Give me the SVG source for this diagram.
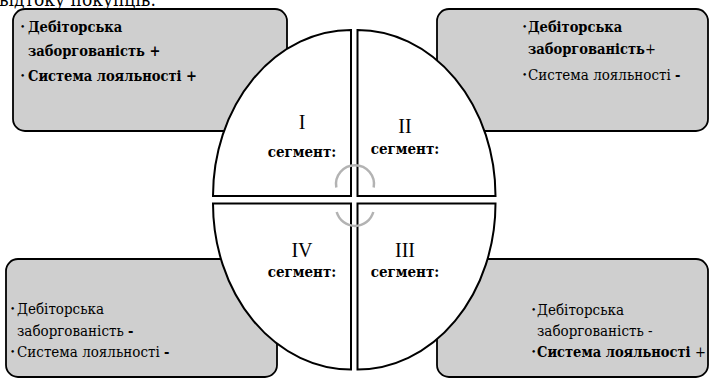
<svg xmlns="http://www.w3.org/2000/svg" width="711" height="378" viewBox="0 0 711 378">
<style>
  .box { fill: #cfcfcf; stroke: #000; stroke-width: 1.8; }
  .quad { fill: #fff; stroke: #000; stroke-width: 2; stroke-linejoin: miter; }
  .t { font-family: "DejaVu Serif Condensed", "DejaVu Serif", "Liberation Serif", serif; font-size: 15px; fill: #000; }
  .b { font-weight: bold; font-size: 14.5px; }
  .bul { font-family: "DejaVu Serif", serif; font-size: 9px; fill: #000; }
  .num { font-family: "Liberation Serif", "DejaVu Serif", serif; font-size: 20px; fill: #000; text-anchor: middle; }
  .seg { font-family: "DejaVu Serif Condensed", "DejaVu Serif", serif; font-size: 15px; font-weight: bold; fill: #000; text-anchor: middle; }
  .arc { fill: none; stroke: #b3b3b3; stroke-width: 2.5; }
</style>
<rect width="711" height="378" fill="#fff"/>
<text class="t" x="-1" y="6" style="font-size:19px">відтоку покупців.</text>

<g id="box-tl">
  <rect class="box" x="13" y="9" width="274" height="122" rx="12"/>
  <text class="bul" x="20" y="30">•</text>
  <text class="t b" x="28" y="32">Дебіторська</text>
  <text class="t b" x="28" y="56">заборгованість +</text>
  <text class="bul" x="20" y="79">•</text>
  <text class="t b" x="28" y="81">Система лояльності +</text>
</g>
<g id="box-tr">
  <rect class="box" x="437" y="9" width="271" height="122" rx="12"/>
  <text class="bul" x="522" y="30">•</text>
  <text class="t b" x="528" y="32">Дебіторська</text>
  <text class="t b" x="528" y="54">заборгованість<tspan font-weight="normal">+</tspan></text>
  <text class="bul" x="522" y="78">•</text>
  <text class="t" x="528" y="80">Система лояльності <tspan class="b">-</tspan></text>
</g>
<g id="box-bl">
  <rect class="box" x="6" y="259" width="271" height="118" rx="12"/>
  <text class="bul" x="10" y="312">•</text>
  <text class="t" x="17" y="314">Дебіторська</text>
  <text class="t" x="17" y="336">заборгованість  <tspan class="b">-</tspan></text>
  <text class="bul" x="10" y="355">•</text>
  <text class="t" x="17" y="357">Система лояльності  <tspan class="b">-</tspan></text>
</g>
<g id="box-br">
  <rect class="box" x="437" y="259" width="271" height="118" rx="12"/>
  <text class="bul" x="531" y="313">•</text>
  <text class="t" x="537" y="315">Дебіторська</text>
  <text class="t" x="537" y="336">заборгованість -</text>
  <text class="bul" x="531" y="355">•</text>
  <text class="t b" x="537" y="357">Система лояльності <tspan font-weight="normal">+</tspan></text>
</g>

<g id="seg-1">
  <path class="quad" d="M351 196 L213 196 A138 166 0 0 1 351 30 Z"/>
  <text class="num" x="302" y="129">I</text>
  <text class="seg" x="302" y="157">сегмент:</text>
</g>
<g id="seg-2">
  <path class="quad" d="M357.5 196 L357.5 30 A138 166 0 0 1 495.5 196 Z"/>
  <text class="num" x="405" y="133">II</text>
  <text class="seg" x="405" y="154">сегмент:</text>
</g>
<g id="seg-3">
  <path class="quad" d="M357.5 203.5 L495.5 203.5 A138 166 0 0 1 357.5 369.5 Z"/>
  <text class="num" x="405" y="257">III</text>
  <text class="seg" x="405" y="277">сегмент:</text>
</g>
<g id="seg-4">
  <path class="quad" d="M351 203.5 L351 369.5 A138 166 0 0 1 213 203.5 Z"/>
  <text class="num" x="302" y="257">IV</text>
  <text class="seg" x="302" y="277">сегмент:</text>
</g>

<g id="connectors">
  <path class="arc" d="M336.3 187.5 A19 19 0 1 1 373.7 187.5"/>
  <path class="arc" d="M373.3 212 A19 19 0 0 1 336.7 212"/>
</g>
</svg>
